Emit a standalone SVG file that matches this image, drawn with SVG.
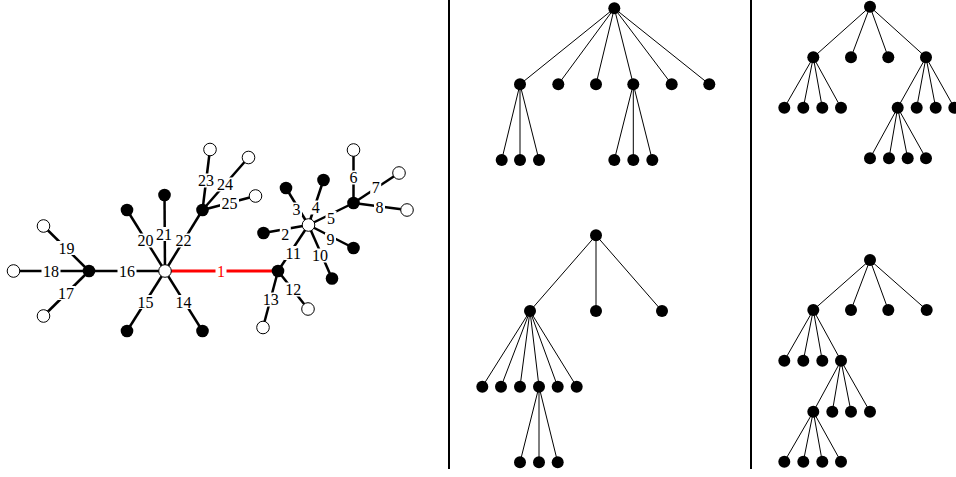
<svg xmlns="http://www.w3.org/2000/svg" width="956" height="477" viewBox="0 0 956 477">
<style>
.e{stroke:#000;stroke-width:2.5;fill:none}
.r{stroke:#f00;stroke-width:3.2;fill:none}
.t{stroke:#000;stroke-width:1;fill:none}
.b{fill:#000}
.w{fill:#fff;stroke:#000;stroke-width:1}
.tn{fill:#000}
.bg{fill:#fff}
text{font-family:"Liberation Serif","Times New Roman",serif;font-size:16px;text-anchor:middle;fill:#000}
.lr{fill:#f00}
.div{stroke:#000;stroke-width:2}
</style>
<defs>
<rect id="b1" class="bg" x="-5.5" y="-7" width="11" height="14"/>
<rect id="b2" class="bg" x="-9.5" y="-7" width="19" height="14"/>
</defs>
<rect width="956" height="477" fill="#fff"/>
<g id="connectors">
<line class="r" x1="165" y1="271" x2="278" y2="271"/>
<line class="e" x1="165" y1="271" x2="89" y2="271"/>
<line class="e" x1="165" y1="271" x2="127" y2="210"/>
<line class="e" x1="165" y1="271" x2="164.5" y2="195"/>
<line class="e" x1="165" y1="271" x2="202.5" y2="210"/>
<line class="e" x1="165" y1="271" x2="127" y2="331"/>
<line class="e" x1="165" y1="271" x2="202.5" y2="331"/>
<line class="e" x1="89" y1="271" x2="13.5" y2="271"/>
<line class="e" x1="89" y1="271" x2="43.5" y2="226"/>
<line class="e" x1="89" y1="271" x2="43.5" y2="316"/>
<line class="e" x1="202.5" y1="210" x2="210" y2="149.5"/>
<line class="e" x1="202.5" y1="210" x2="248.5" y2="157.5"/>
<line class="e" x1="202.5" y1="210" x2="255.5" y2="196"/>
<line class="e" x1="278" y1="271" x2="308.5" y2="225"/>
<line class="e" x1="278" y1="271" x2="263" y2="327.5"/>
<line class="e" x1="278" y1="271" x2="308" y2="309"/>
<line class="e" x1="308.5" y1="225" x2="263.5" y2="233"/>
<line class="e" x1="308.5" y1="225" x2="286" y2="188"/>
<line class="e" x1="308.5" y1="225" x2="323.5" y2="180"/>
<line class="e" x1="308.5" y1="225" x2="353.5" y2="203"/>
<line class="e" x1="308.5" y1="225" x2="353.5" y2="248"/>
<line class="e" x1="308.5" y1="225" x2="332" y2="278.5"/>
<line class="e" x1="353.5" y1="203" x2="353.5" y2="150"/>
<line class="e" x1="353.5" y1="203" x2="399" y2="173"/>
<line class="e" x1="353.5" y1="203" x2="407" y2="210"/>
<path class="t" d="M614.3,8.3L520,84.3M614.3,8.3L558.3,84.3M614.3,8.3L596,84.3M614.3,8.3L633.3,84.3M614.3,8.3L671.7,84.3M614.3,8.3L709.3,84.3M520,84.3L501.7,160M520,84.3L520,160M520,84.3L539,160M633.3,84.3L614.3,160M633.3,84.3L633.3,160M633.3,84.3L652.3,160"/>
<path class="t" d="M596,235.3L530,311M596,235.3L596,311M596,235.3L662,311M530,311L482.3,386.7M530,311L501,386.7M530,311L520,386.7M530,311L539,386.7M530,311L557.7,386.7M530,311L576.7,386.7M539,386.7L520,462.3M539,386.7L539,462.3M539,386.7L557.7,462.3"/>
<path class="t" d="M870,6.7L813.3,57.3M870,6.7L851,57.3M870,6.7L888.3,57.3M870,6.7L926,57.3M813.3,57.3L784.3,107.7M813.3,57.3L803.3,107.7M813.3,57.3L822.3,107.7M813.3,57.3L841,107.7M926,57.3L897.7,107.7M926,57.3L916.7,107.7M926,57.3L935.7,107.7M926,57.3L954.3,107.7M897.7,107.7L870,158.3M897.7,107.7L889,158.3M897.7,107.7L907.7,158.3M897.7,107.7L926,158.3"/>
<path class="t" d="M870,260L813.3,310M870,260L851,310M870,260L888.3,310M870,260L926.7,310M813.3,310L784.3,360.7M813.3,310L803.3,360.7M813.3,310L822.3,360.7M813.3,310L841,360.7M841,360.7L813.3,411.7M841,360.7L832.3,411.7M841,360.7L851,411.7M841,360.7L870,411.7M813.3,411.7L784.3,461.7M813.3,411.7L803.3,461.7M813.3,411.7L822.3,461.7M813.3,411.7L841,461.7"/>
</g>
<g id="dividers">
<line class="div" x1="449" y1="0" x2="449" y2="469"/>
<line class="div" x1="751" y1="0" x2="751" y2="469"/>
</g>
<g id="edge-labels">
<use href="#b1" x="221" y="271"/><text class="lr" x="221" y="276.5">1</text>
<use href="#b2" x="127" y="271"/><text x="127" y="276.5">16</text>
<use href="#b2" x="51" y="271"/><text x="51" y="276.5">18</text>
<use href="#b2" x="66.5" y="248"/><text x="66.5" y="253.5">19</text>
<use href="#b2" x="66" y="293"/><text x="66" y="298.5">17</text>
<use href="#b2" x="145.5" y="240.5"/><text x="145.5" y="246">20</text>
<use href="#b2" x="164" y="234"/><text x="164" y="239.5">21</text>
<use href="#b2" x="183.5" y="240.5"/><text x="183.5" y="246">22</text>
<use href="#b2" x="145.5" y="302"/><text x="145.5" y="307.5">15</text>
<use href="#b2" x="183.5" y="302"/><text x="183.5" y="307.5">14</text>
<use href="#b2" x="206" y="180.5"/><text x="206" y="186">23</text>
<use href="#b2" x="225" y="184.5"/><text x="225" y="190">24</text>
<use href="#b2" x="229.5" y="203"/><text x="229.5" y="208.5">25</text>
<use href="#b1" x="296.5" y="209.5"/><text x="296.5" y="215">3</text>
<use href="#b1" x="315.7" y="207.5"/><text x="315.7" y="213">4</text>
<use href="#b1" x="331" y="218"/><text x="331" y="223.5">5</text>
<use href="#b1" x="285.3" y="234"/><text x="285.3" y="239.5">2</text>
<use href="#b2" x="293.3" y="253"/><text x="293.3" y="258.5">11</text>
<use href="#b2" x="320" y="255.5"/><text x="320" y="261">10</text>
<use href="#b1" x="330.5" y="239.5"/><text x="330.5" y="245">9</text>
<use href="#b1" x="353.5" y="177.5"/><text x="353.5" y="183">6</text>
<use href="#b1" x="375.7" y="187"/><text x="375.7" y="192.5">7</text>
<use href="#b1" x="379.5" y="207"/><text x="379.5" y="212.5">8</text>
<use href="#b2" x="293.3" y="289.5"/><text x="293.3" y="295">12</text>
<use href="#b2" x="270.7" y="299.5"/><text x="270.7" y="305">13</text>
</g>
<g id="graph-nodes">
<g id="n-c"><circle class="w" cx="165" cy="271" r="6.3"/></g>
<g id="n-b1"><circle class="b" cx="89" cy="271" r="6.3"/></g>
<g id="n-w18"><circle class="w" cx="13.5" cy="271" r="6.3"/></g>
<g id="n-w19"><circle class="w" cx="43.5" cy="226" r="6.3"/></g>
<g id="n-w17"><circle class="w" cx="43.5" cy="316" r="6.3"/></g>
<g id="n-b20"><circle class="b" cx="127" cy="210" r="6.3"/></g>
<g id="n-b21"><circle class="b" cx="164.5" cy="195" r="6.3"/></g>
<g id="n-b22"><circle class="b" cx="202.5" cy="210" r="6.3"/></g>
<g id="n-b15"><circle class="b" cx="127" cy="331" r="6.3"/></g>
<g id="n-b14"><circle class="b" cx="202.5" cy="331" r="6.3"/></g>
<g id="n-w23"><circle class="w" cx="210" cy="149.5" r="6.3"/></g>
<g id="n-w24"><circle class="w" cx="248.5" cy="157.5" r="6.3"/></g>
<g id="n-w25"><circle class="w" cx="255.5" cy="196" r="6.3"/></g>
<g id="n-b2"><circle class="b" cx="278" cy="271" r="6.3"/></g>
<g id="n-w13"><circle class="w" cx="263" cy="327.5" r="6.3"/></g>
<g id="n-w12"><circle class="w" cx="308" cy="309" r="6.3"/></g>
<g id="n-w2"><circle class="w" cx="308.5" cy="225" r="6.3"/></g>
<g id="n-bl2"><circle class="b" cx="263.5" cy="233" r="6.3"/></g>
<g id="n-bl3"><circle class="b" cx="286" cy="188" r="6.3"/></g>
<g id="n-bl4"><circle class="b" cx="323.5" cy="180" r="6.3"/></g>
<g id="n-b3"><circle class="b" cx="353.5" cy="203" r="6.3"/></g>
<g id="n-bl9"><circle class="b" cx="353.5" cy="248" r="6.3"/></g>
<g id="n-bl10"><circle class="b" cx="332" cy="278.5" r="6.3"/></g>
<g id="n-w6"><circle class="w" cx="353.5" cy="150" r="6.3"/></g>
<g id="n-w7"><circle class="w" cx="399" cy="173" r="6.3"/></g>
<g id="n-w8"><circle class="w" cx="407" cy="210" r="6.3"/></g>
</g>
<g id="treeA">
<circle class="tn" cx="614.3" cy="8.3" r="6"/>
<circle class="tn" cx="520" cy="84.3" r="6"/><circle class="tn" cx="558.3" cy="84.3" r="6"/><circle class="tn" cx="596" cy="84.3" r="6"/><circle class="tn" cx="633.3" cy="84.3" r="6"/><circle class="tn" cx="671.7" cy="84.3" r="6"/><circle class="tn" cx="709.3" cy="84.3" r="6"/>
<circle class="tn" cx="501.7" cy="160" r="6"/><circle class="tn" cx="520" cy="160" r="6"/><circle class="tn" cx="539" cy="160" r="6"/><circle class="tn" cx="614.3" cy="160" r="6"/><circle class="tn" cx="633.3" cy="160" r="6"/><circle class="tn" cx="652.3" cy="160" r="6"/>
</g>
<g id="treeB">
<circle class="tn" cx="596" cy="235.3" r="6"/>
<circle class="tn" cx="530" cy="311" r="6"/><circle class="tn" cx="596" cy="311" r="6"/><circle class="tn" cx="662" cy="311" r="6"/>
<circle class="tn" cx="482.3" cy="386.7" r="6"/><circle class="tn" cx="501" cy="386.7" r="6"/><circle class="tn" cx="520" cy="386.7" r="6"/><circle class="tn" cx="539" cy="386.7" r="6"/><circle class="tn" cx="557.7" cy="386.7" r="6"/><circle class="tn" cx="576.7" cy="386.7" r="6"/>
<circle class="tn" cx="520" cy="462.3" r="6"/><circle class="tn" cx="539" cy="462.3" r="6"/><circle class="tn" cx="557.7" cy="462.3" r="6"/>
</g>
<g id="treeC">
<circle class="tn" cx="870" cy="6.7" r="6"/>
<circle class="tn" cx="813.3" cy="57.3" r="6"/><circle class="tn" cx="851" cy="57.3" r="6"/><circle class="tn" cx="888.3" cy="57.3" r="6"/><circle class="tn" cx="926" cy="57.3" r="6"/>
<circle class="tn" cx="784.3" cy="107.7" r="6"/><circle class="tn" cx="803.3" cy="107.7" r="6"/><circle class="tn" cx="822.3" cy="107.7" r="6"/><circle class="tn" cx="841" cy="107.7" r="6"/>
<circle class="tn" cx="897.7" cy="107.7" r="6"/><circle class="tn" cx="916.7" cy="107.7" r="6"/><circle class="tn" cx="935.7" cy="107.7" r="6"/><circle class="tn" cx="954.3" cy="107.7" r="6"/>
<circle class="tn" cx="870" cy="158.3" r="6"/><circle class="tn" cx="889" cy="158.3" r="6"/><circle class="tn" cx="907.7" cy="158.3" r="6"/><circle class="tn" cx="926" cy="158.3" r="6"/>
</g>
<g id="treeD">
<circle class="tn" cx="870" cy="260" r="6"/>
<circle class="tn" cx="813.3" cy="310" r="6"/><circle class="tn" cx="851" cy="310" r="6"/><circle class="tn" cx="888.3" cy="310" r="6"/><circle class="tn" cx="926.7" cy="310" r="6"/>
<circle class="tn" cx="784.3" cy="360.7" r="6"/><circle class="tn" cx="803.3" cy="360.7" r="6"/><circle class="tn" cx="822.3" cy="360.7" r="6"/><circle class="tn" cx="841" cy="360.7" r="6"/>
<circle class="tn" cx="813.3" cy="411.7" r="6"/><circle class="tn" cx="832.3" cy="411.7" r="6"/><circle class="tn" cx="851" cy="411.7" r="6"/><circle class="tn" cx="870" cy="411.7" r="6"/>
<circle class="tn" cx="784.3" cy="461.7" r="6"/><circle class="tn" cx="803.3" cy="461.7" r="6"/><circle class="tn" cx="822.3" cy="461.7" r="6"/><circle class="tn" cx="841" cy="461.7" r="6"/>
</g>
</svg>
